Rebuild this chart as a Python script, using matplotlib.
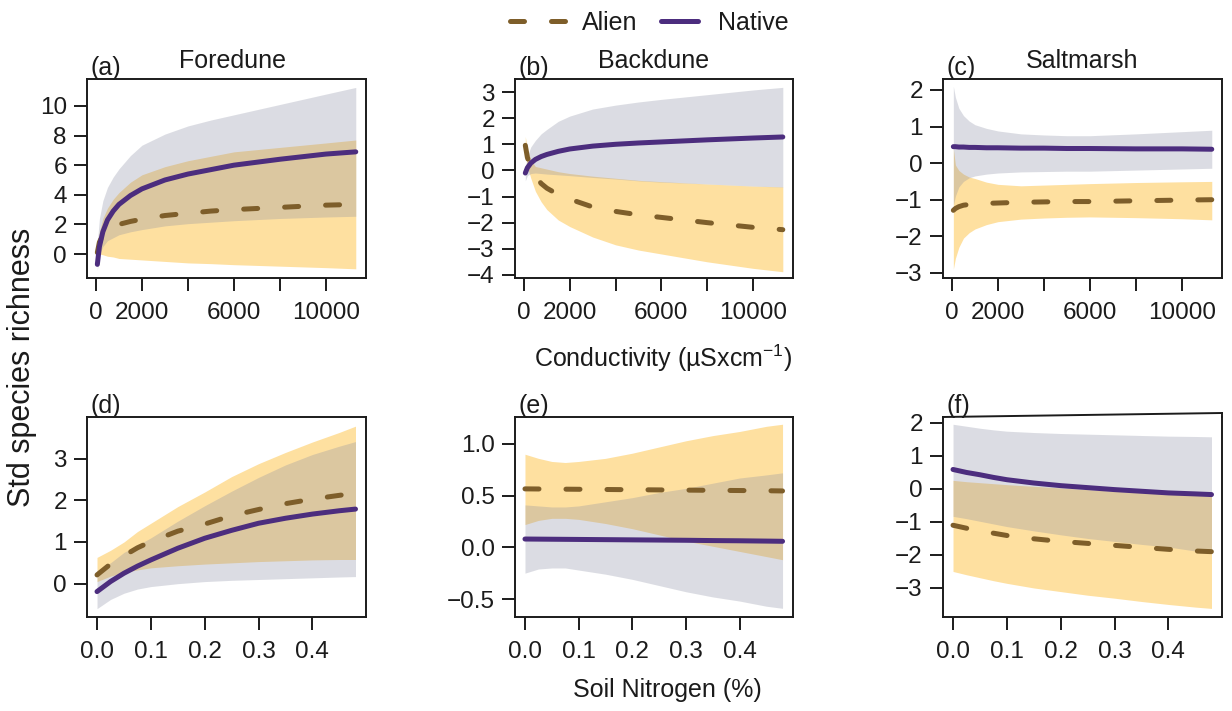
import matplotlib
matplotlib.use('Agg')
import matplotlib.pyplot as plt
from matplotlib.lines import Line2D

plt.rcParams['font.family'] = ['Liberation Sans', 'DejaVu Sans']
plt.rcParams['mathtext.fontset'] = 'custom'
plt.rcParams['mathtext.rm'] = 'Liberation Sans'
plt.rcParams['mathtext.it'] = 'Liberation Sans:italic'
plt.rcParams['text.color'] = '#1b1b1b'

# conductivity panels (a-c)
cond = [60, 150, 300, 500, 750, 1000, 1500, 2000, 3000, 4000, 5000, 6000, 8000, 10000, 11300]

a_alien = [0.1, 0.8, 1.3, 1.6, 1.85, 2.0, 2.2, 2.35, 2.6, 2.75, 2.9, 3.0, 3.15, 3.3, 3.35]
a_alien_lo = [0.0, 0.0, -0.05, -0.15, -0.2, -0.3, -0.35, -0.4, -0.5, -0.6, -0.65, -0.72, -0.82, -0.92, -1.0]
a_alien_hi = [0.5, 1.5, 2.4, 3.1, 3.7, 4.15, 4.85, 5.35, 5.9, 6.3, 6.6, 6.9, 7.2, 7.5, 7.7]
a_native = [-0.7, 0.5, 1.5, 2.3, 2.9, 3.35, 3.95, 4.4, 5.0, 5.4, 5.7, 6.0, 6.4, 6.75, 6.9]
a_native_lo = [-1.1, 0.0, 0.5, 0.9, 1.1, 1.3, 1.5, 1.65, 1.9, 2.05, 2.15, 2.25, 2.4, 2.5, 2.55]
a_native_hi = [0.8, 2.4, 3.6, 4.5, 5.2, 5.75, 6.65, 7.35, 8.1, 8.65, 9.05, 9.4, 10.1, 10.8, 11.25]

b_alien = [0.96, 0.5, 0.1, -0.2, -0.5, -0.68, -0.93, -1.1, -1.4, -1.57, -1.7, -1.8, -2.0, -2.18, -2.27]
b_alien_lo = [0.6, 0.15, -0.3, -0.8, -1.2, -1.5, -1.9, -2.15, -2.55, -2.85, -3.05, -3.2, -3.5, -3.75, -3.88]
b_alien_hi = [1.3, 0.8, 0.4, 0.15, 0.1, 0.05, -0.05, -0.12, -0.22, -0.3, -0.38, -0.43, -0.52, -0.6, -0.63]
b_native = [-0.1, 0.1, 0.28, 0.42, 0.53, 0.61, 0.73, 0.82, 0.93, 1.0, 1.05, 1.09, 1.17, 1.24, 1.28]
b_native_lo = [-0.4, -0.2, -0.12, -0.1, -0.12, -0.14, -0.17, -0.2, -0.27, -0.33, -0.4, -0.45, -0.52, -0.6, -0.64]
b_native_hi = [0.1, 0.55, 0.9, 1.15, 1.4, 1.57, 1.88, 2.08, 2.35, 2.5, 2.62, 2.72, 2.9, 3.08, 3.18]

c_alien = [-1.29, -1.24, -1.19, -1.15, -1.13, -1.11, -1.10, -1.09, -1.07, -1.06, -1.05, -1.05, -1.03, -1.01, -1.0]
c_alien_lo = [-2.9, -2.6, -2.3, -2.05, -1.9, -1.8, -1.68, -1.6, -1.53, -1.5, -1.48, -1.47, -1.49, -1.52, -1.55]
c_alien_hi = [0.4, -0.05, -0.2, -0.3, -0.38, -0.42, -0.52, -0.58, -0.62, -0.6, -0.58, -0.56, -0.53, -0.51, -0.5]
c_native = [0.45, 0.45, 0.44, 0.44, 0.43, 0.43, 0.42, 0.42, 0.41, 0.41, 0.40, 0.40, 0.39, 0.39, 0.38]
c_native_lo = [-1.15, -0.9, -0.65, -0.5, -0.4, -0.35, -0.3, -0.27, -0.24, -0.23, -0.22, -0.22, -0.19, -0.16, -0.14]
c_native_hi = [2.1, 1.8, 1.5, 1.3, 1.15, 1.05, 0.95, 0.88, 0.8, 0.77, 0.75, 0.75, 0.8, 0.86, 0.9]

# soil nitrogen panels (d-f)
nit = [0, 0.025, 0.05, 0.075, 0.1, 0.15, 0.2, 0.25, 0.3, 0.35, 0.4, 0.45, 0.48]

d_alien = [0.21, 0.47, 0.67, 0.86, 1.01, 1.26, 1.43, 1.63, 1.78, 1.92, 2.03, 2.12, 2.17]
d_alien_lo = [0.05, 0.18, 0.27, 0.33, 0.38, 0.43, 0.47, 0.5, 0.53, 0.55, 0.57, 0.58, 0.58]
d_alien_hi = [0.63, 0.8, 1.0, 1.25, 1.45, 1.85, 2.2, 2.57, 2.88, 3.15, 3.4, 3.63, 3.78]
d_native = [-0.19, 0.05, 0.25, 0.42, 0.57, 0.85, 1.09, 1.28, 1.45, 1.57, 1.67, 1.75, 1.79]
d_native_lo = [-0.6, -0.38, -0.23, -0.13, -0.07, 0.0, 0.05, 0.08, 0.1, 0.12, 0.14, 0.16, 0.17]
d_native_hi = [0.3, 0.5, 0.75, 0.92, 1.1, 1.5, 1.87, 2.22, 2.55, 2.85, 3.1, 3.3, 3.41]

e_alien = [0.565, 0.564, 0.563, 0.562, 0.561, 0.559, 0.557, 0.555, 0.553, 0.551, 0.549, 0.547, 0.545]
e_alien_lo = [0.22, 0.26, 0.28, 0.28, 0.27, 0.23, 0.18, 0.12, 0.06, 0.01, -0.04, -0.09, -0.12]
e_alien_hi = [0.9, 0.86, 0.83, 0.82, 0.83, 0.86, 0.91, 0.97, 1.03, 1.08, 1.12, 1.17, 1.19]
e_native = [0.080, 0.079, 0.078, 0.077, 0.076, 0.074, 0.072, 0.070, 0.068, 0.065, 0.063, 0.060, 0.058]
e_native_lo = [-0.25, -0.21, -0.2, -0.2, -0.22, -0.26, -0.31, -0.37, -0.43, -0.48, -0.52, -0.57, -0.59]
e_native_hi = [0.41, 0.40, 0.39, 0.39, 0.40, 0.44, 0.48, 0.53, 0.57, 0.62, 0.67, 0.70, 0.72]

f_alien = [-1.1, -1.19, -1.27, -1.34, -1.41, -1.51, -1.59, -1.65, -1.71, -1.77, -1.83, -1.88, -1.9]
f_alien_lo = [-2.5, -2.6, -2.69, -2.78, -2.86, -3.0, -3.11, -3.22, -3.31, -3.41, -3.5, -3.58, -3.62]
f_alien_hi = [0.26, 0.22, 0.19, 0.16, 0.13, 0.08, 0.03, -0.02, -0.07, -0.11, -0.14, -0.19, -0.22]
f_native = [0.59, 0.5, 0.43, 0.35, 0.28, 0.18, 0.1, 0.04, -0.02, -0.07, -0.12, -0.15, -0.17]
f_native_lo = [-0.83, -0.9, -0.98, -1.06, -1.14, -1.27, -1.39, -1.5, -1.59, -1.68, -1.76, -1.88, -1.95]
f_native_hi = [1.96, 1.9, 1.84, 1.79, 1.75, 1.71, 1.68, 1.66, 1.64, 1.62, 1.6, 1.59, 1.58]

titles = ['Foredune', 'Backdune', 'Saltmarsh']
letters = ['(a)', '(b)', '(c)', '(d)', '(e)', '(f)']
cond_ticks = [0, 2000, 4000, 6000, 8000, 10000]
cond_labels = ['0', '2000', '', '6000', '', '10000']
nit_ticks = [0.0, 0.1, 0.2, 0.3, 0.4]
yticks = [[0, 2, 4, 6, 8, 10], [-4, -3, -2, -1, 0, 1, 2, 3], [-3, -2, -1, 0, 1, 2],
          [0, 1, 2, 3], [-0.5, 0.0, 0.5, 1.0], [-3, -2, -1, 0, 1, 2]]
ylims = [(-1.62, 11.82), (-4.12, 3.5), (-3.14, 2.3), (-0.8, 4.0), (-0.674, 1.26), (-3.88, 2.18)]

ALIEN = '#7E5E2A'
NATIVE = '#4C2D7E'
ORANGE = '#FEE0A0'
GREY = '#8A8EA3'
INK = '#1b1b1b'
DASH = (0, (2.8, 5.4))

W, H = 1232, 711
fig = plt.figure(figsize=(W / 100, H / 100), dpi=100)

boxes = [(87, 79, 366, 278), (515, 79, 793, 278), (943, 79, 1222, 278),
         (87, 417, 366, 617), (515, 417, 793, 617), (943, 417, 1222, 617)]

panels = [
    (cond, a_alien, a_alien_lo, a_alien_hi, a_native, a_native_lo, a_native_hi),
    (cond, b_alien, b_alien_lo, b_alien_hi, b_native, b_native_lo, b_native_hi),
    (cond, c_alien, c_alien_lo, c_alien_hi, c_native, c_native_lo, c_native_hi),
    (nit, d_alien, d_alien_lo, d_alien_hi, d_native, d_native_lo, d_native_hi),
    (nit, e_alien, e_alien_lo, e_alien_hi, e_native, e_native_lo, e_native_hi),
    (nit, f_alien, f_alien_lo, f_alien_hi, f_native, f_native_lo, f_native_hi),
]

for i, (x, al, alo, ahi, na, nlo, nhi) in enumerate(panels):
    x0, y0, x1, y1 = boxes[i]
    ax = fig.add_axes([x0 / W, 1 - y1 / H, (x1 - x0) / W, (y1 - y0) / H])

    ax.fill_between(x, alo, ahi, color=ORANGE, lw=0)
    ax.plot(x, al, color=ALIEN, lw=3.6, ls=DASH, dash_capstyle='round')
    ax.fill_between(x, nlo, nhi, color=GREY, alpha=0.3, lw=0)
    ax.plot(x, na, color=NATIVE, lw=3.6, solid_capstyle='round')

    if i < 3:
        ax.set_xlim(-390, 11745)
        ax.set_xticks(cond_ticks, cond_labels)
        ax.text(0.5 if i else 0.523, 1.055, titles[i], transform=ax.transAxes,
                ha='center', va='baseline', fontsize=18)
    else:
        ax.set_xlim(-0.0186, 0.4995)
        ax.set_xticks(nit_ticks)
    ax.set_ylim(*ylims[i])
    ax.set_yticks(yticks[i])

    ax.text(0.011, 1.02, letters[i], transform=ax.transAxes, ha='left',
            va='baseline', fontsize=18)

    for sp in ax.spines.values():
        sp.set_linewidth(1.4)
        sp.set_color(INK)
    ax.tick_params(direction='out', length=9.5, width=1.4, color=INK,
                   labelsize=17.5, labelcolor=INK)
    ax.tick_params(axis='x', pad=8)
    ax.tick_params(axis='y', pad=5)

    if i == 5:
        # slightly skewed top border as in the original
        ax.spines['top'].set_visible(False)
        ax.add_line(Line2D([0, 1], [1, 1.02], transform=ax.transAxes,
                           clip_on=False, color=INK, lw=1.4))
        ax.add_line(Line2D([1, 1], [1, 1.02], transform=ax.transAxes,
                           clip_on=False, color=INK, lw=1.4))

# legend across the top
ly = 1 - 21 / H
fig.add_artist(Line2D([509.5 / W, 566 / W], [ly, ly], color=ALIEN, lw=3.6,
                      ls=DASH, dash_capstyle='round'))
fig.text(582 / W, 1 - 30 / H, 'Alien', fontsize=18, va='baseline')
fig.add_artist(Line2D([660.5 / W, 697.5 / W], [ly, ly], color=NATIVE, lw=3.6,
                      solid_capstyle='round'))
fig.text(718 / W, 1 - 30 / H, 'Native', fontsize=18, va='baseline')

fig.text(22 / W, 1 - 367 / H, 'Std species richness', rotation=90,
         ha='center', va='center', fontsize=22)
fig.text(663 / W, 1 - 367 / H, 'Conductivity (µSxcm$^{-1}$)', ha='center',
         va='baseline', fontsize=18)
fig.text(667 / W, 1 - 697 / H, 'Soil Nitrogen (%)', ha='center',
         va='baseline', fontsize=18)

fig.savefig('out.png', dpi=100)
